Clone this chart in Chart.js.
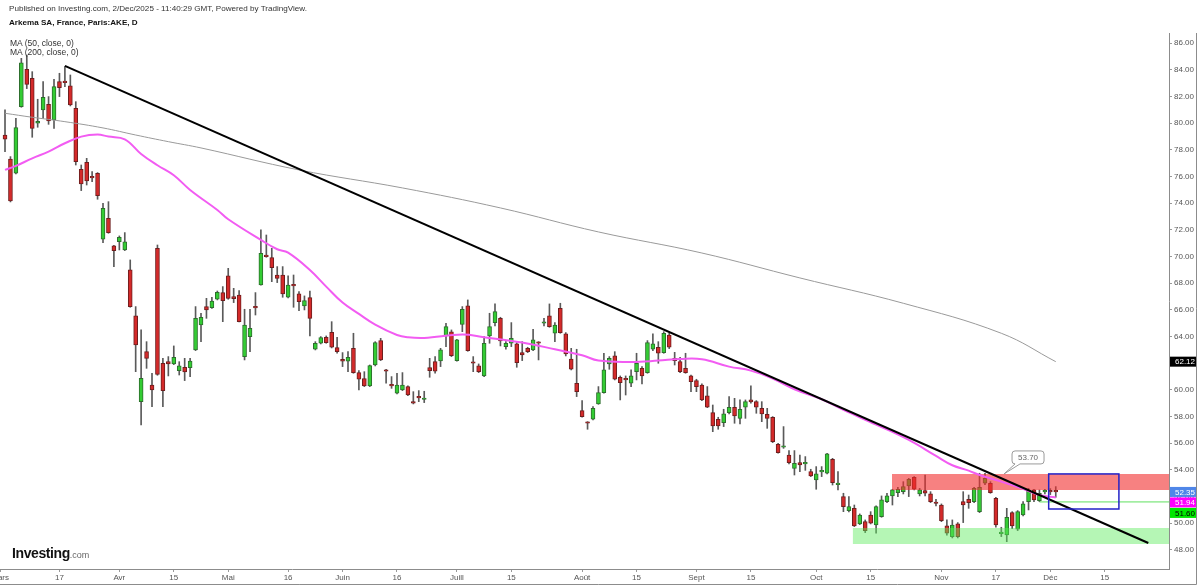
<!DOCTYPE html>
<html>
<head>
<meta charset="utf-8">
<script src="https://cdn.jsdelivr.net/npm/chart.js@4.4.1/dist/chart.umd.min.js"></script>
<style>
html, body { margin: 0; padding: 0; background: #fff; }
#wrap { position: relative; width: 1200px; height: 586px; overflow: hidden; font-family: "Liberation Sans", Arial, sans-serif; }
#chart { position: absolute; left: 0; top: 0; }
.txt { position: absolute; white-space: nowrap; color: #333; }
#hdr1 { left: 9px; top: 4px; font-size: 8.1px; }
#hdr2 { left: 9px; top: 18px; font-size: 8.1px; font-weight: bold; color: #111; }
#ma { left: 10px; top: 39px; font-size: 8.5px; line-height: 8.5px; }
#logo { left: 12px; top: 545px; font-size: 14px; font-weight: bold; color: #111; letter-spacing: -0.4px; }
#logo span { font-weight: normal; font-size: 9px; color: #666; letter-spacing: 0; }
</style>
</head>
<body>
<div id="wrap">
  <canvas id="chart" width="1200" height="586"></canvas>
  <div class="txt" id="hdr1">Published on Investing.com, 2/Dec/2025 - 11:40:29 GMT, Powered by TradingView.</div>
  <div class="txt" id="hdr2">Arkema SA, France, Paris:AKE, D</div>
  <div class="txt" id="ma">MA (50, close, 0)<br>MA (200, close, 0)</div>
  <div class="txt" id="logo">Investing<span>.com</span></div>
</div>
<script>
// daily candles, trading day 0 = 3 Mar 2025 ... 193 = 2 Dec 2025
var open = [79.12, 77.32, 76.25, 81.24, 84.05, 83.37, 80.0, 81.0, 81.42, 80.25,
    83.12, 83.15, 82.8, 81.12, 76.55, 77.07, 75.95, 76.25, 71.3, 72.87,
    70.8, 71.12, 70.5, 69.0, 65.55, 59.12, 62.87, 60.37, 70.62, 62.0,
    62.12, 61.95, 61.45, 61.7, 61.67, 63.0, 64.87, 66.25, 66.17, 66.8,
    67.3, 68.55, 67.0, 67.12, 62.5, 64.0, 66.25, 67.87, 70.1, 69.92,
    68.62, 68.62, 66.95, 67.85, 67.2, 66.3, 66.92, 63.05, 63.5, 63.95,
    64.32, 63.17, 62.3, 62.15, 63.12, 61.3, 60.85, 60.3, 61.87, 63.7,
    61.5, 60.35, 59.75, 60.0, 60.25, 59.12, 59.45, 59.28, 61.67, 62.12,
    62.17, 64.05, 64.35, 62.2, 64.92, 66.3, 62.1, 61.8, 61.05, 64.05,
    65.05, 65.37, 63.25, 63.5, 63.45, 62.8, 63.12, 63.0, 63.55, 65.0,
    65.55, 64.25, 66.12, 64.2, 62.32, 60.5, 58.45, 57.55, 57.8, 58.95,
    59.8, 61.95, 62.55, 60.95, 60.8, 60.5, 61.37, 61.62, 61.3, 63.05,
    63.2, 62.8, 64.12, 62.37, 62.12, 61.62, 61.05, 60.7, 60.37, 59.55,
    58.3, 57.8, 57.55, 58.3, 58.7, 57.87, 58.7, 59.25, 59.12, 58.62,
    58.17, 57.95, 55.92, 55.7, 55.12, 54.12, 54.55, 54.45, 53.87, 53.25,
    53.85, 53.75, 54.8, 52.9, 52.0, 50.95, 51.12, 49.95, 50.12, 50.62,
    49.87, 50.5, 51.62, 52.05, 52.3, 52.37, 52.8, 53.45, 52.2, 52.45,
    52.2, 51.52, 51.37, 49.8, 48.99, 49.95, 51.62, 51.8, 51.62, 50.87,
    53.0, 53.0, 51.87, 49.22, 49.12, 50.8, 49.55, 50.62, 51.62, 52.5,
    51.7, 52.35, 52.4, 52.45];
var high = [81.0, 77.5, 80.37, 84.87, 85.12, 83.87, 81.8, 83.12, 82.0, 83.3,
    83.75, 84.25, 83.62, 81.62, 76.87, 77.37, 76.37, 76.3, 74.0, 74.12,
    70.85, 71.55, 71.8, 69.75, 66.25, 64.5, 63.62, 61.25, 70.87, 62.37,
    62.5, 63.3, 62.12, 62.37, 62.37, 66.25, 65.75, 66.87, 66.95, 67.42,
    67.75, 69.12, 67.62, 67.45, 66.05, 66.05, 67.3, 72.0, 71.62, 70.62,
    69.25, 69.25, 68.55, 68.62, 67.37, 67.05, 67.42, 63.62, 64.0, 64.05,
    65.12, 63.95, 62.8, 62.87, 64.25, 61.45, 61.37, 61.87, 63.62, 63.87,
    61.55, 61.0, 61.25, 61.3, 60.3, 59.87, 59.95, 59.9, 62.37, 62.5,
    63.12, 65.0, 64.5, 63.8, 66.25, 66.75, 62.5, 61.95, 64.0, 65.75,
    66.45, 65.45, 63.62, 65.05, 63.55, 63.62, 63.2, 64.55, 63.62, 65.37,
    66.45, 65.05, 66.5, 64.3, 63.12, 63.05, 59.2, 57.62, 58.75, 60.25,
    62.75, 62.5, 62.87, 61.05, 61.05, 61.5, 62.75, 61.75, 63.7, 64.2,
    63.62, 64.37, 64.25, 62.82, 62.45, 62.75, 61.12, 60.8, 60.45, 60.25,
    58.87, 57.95, 58.55, 59.5, 59.37, 59.25, 59.25, 60.3, 59.2, 59.12,
    58.62, 58.0, 56.0, 57.25, 55.45, 55.45, 55.12, 55.0, 54.05, 54.25,
    54.25, 55.25, 54.87, 53.87, 52.25, 52.0, 51.37, 50.7, 50.25, 50.87,
    51.3, 52.05, 52.25, 52.55, 52.7, 53.12, 53.37, 53.5, 52.62, 53.62,
    52.37, 51.8, 51.45, 50.25, 50.25, 50.05, 52.37, 52.12, 52.7, 53.75,
    53.75, 53.12, 51.95, 49.7, 51.12, 50.87, 50.95, 51.62, 52.62, 52.55,
    52.5, 52.55, 52.6, 52.75];
var low = [77.87, 74.1, 76.2, 81.2, 82.6, 78.95, 79.7, 80.37, 79.92, 79.62,
    82.0, 82.75, 81.3, 76.87, 74.95, 75.37, 75.62, 74.3, 71.05, 71.75,
    69.25, 70.5, 70.45, 66.2, 61.37, 57.37, 61.62, 58.75, 61.1, 58.75,
    61.05, 61.9, 61.12, 60.7, 61.0, 62.95, 63.62, 65.37, 66.12, 66.75,
    65.12, 66.8, 66.55, 65.1, 62.25, 62.87, 65.62, 67.85, 69.95, 68.12,
    68.05, 66.95, 66.9, 66.2, 65.95, 66.0, 64.05, 63.0, 63.45, 63.5,
    63.15, 62.75, 61.75, 61.37, 61.25, 60.0, 60.25, 60.25, 61.8, 62.2,
    60.5, 60.12, 59.7, 59.95, 59.57, 58.95, 59.12, 59.05, 60.95, 61.25,
    61.75, 63.25, 62.5, 62.15, 64.37, 62.9, 61.37, 61.3, 61.0, 63.5,
    64.8, 63.3, 63.05, 63.25, 61.7, 62.2, 62.8, 62.95, 62.25, 64.8,
    64.7, 63.62, 64.25, 62.55, 61.5, 59.5, 57.95, 57.05, 57.75, 58.92,
    59.75, 61.55, 60.75, 59.25, 59.62, 60.25, 60.75, 60.45, 61.25, 62.95,
    62.0, 62.75, 63.1, 61.87, 61.3, 61.25, 59.87, 59.87, 59.2, 58.67,
    56.87, 57.05, 57.25, 58.2, 57.5, 57.45, 57.87, 59.0, 58.25, 57.62,
    57.12, 56.05, 55.25, 55.62, 54.45, 53.62, 53.87, 53.97, 53.5, 52.55,
    53.5, 53.7, 52.87, 52.5, 50.87, 50.85, 49.75, 49.9, 49.3, 49.95,
    49.25, 50.45, 51.55, 51.37, 52.0, 52.2, 52.0, 52.5, 52.05, 52.05,
    51.55, 51.3, 50.12, 49.1, 48.9, 48.9, 50.05, 51.12, 51.55, 50.8,
    52.9, 52.25, 49.7, 49.0, 48.62, 49.6, 49.45, 50.55, 51.0, 51.62,
    51.62, 52.2, 52.15, 51.95];
var close = [78.8, 74.17, 79.67, 84.54, 82.92, 79.62, 80.15, 81.95, 80.17, 82.75,
    82.67, 83.05, 81.37, 77.12, 75.45, 75.67, 75.9, 74.57, 73.62, 71.8,
    70.45, 71.45, 71.1, 66.25, 63.37, 60.87, 62.37, 60.0, 61.17, 59.95,
    61.95, 62.45, 61.8, 61.35, 62.17, 65.37, 65.45, 66.0, 66.67, 67.32,
    66.7, 66.87, 66.85, 65.12, 64.87, 64.62, 66.15, 70.25, 70.0, 69.17,
    68.37, 67.2, 67.87, 67.8, 66.62, 66.7, 65.37, 63.5, 63.92, 63.55,
    63.2, 62.87, 62.15, 62.45, 61.3, 60.8, 60.3, 61.82, 63.55, 62.25,
    61.4, 60.3, 60.37, 60.37, 59.62, 59.0, 59.4, 59.32, 61.45, 61.4,
    63.0, 64.75, 62.57, 63.75, 66.05, 62.95, 62.0, 61.37, 63.5, 64.75,
    65.87, 63.67, 63.5, 63.87, 62.05, 62.62, 62.87, 63.75, 63.5, 65.05,
    64.75, 64.87, 64.3, 62.7, 61.55, 59.87, 58.0, 57.5, 58.62, 59.8,
    61.5, 62.37, 60.8, 60.55, 60.75, 61.05, 62.0, 61.05, 63.55, 63.45,
    62.75, 64.25, 63.2, 62.2, 61.37, 61.3, 60.62, 60.25, 59.25, 58.7,
    57.3, 57.3, 58.2, 58.7, 58.05, 58.55, 59.12, 59.1, 58.7, 58.2,
    57.87, 56.12, 55.3, 55.78, 54.55, 54.5, 54.37, 54.52, 53.55, 53.7,
    53.9, 55.2, 53.05, 52.97, 51.25, 51.25, 49.8, 50.62, 49.45, 50.0,
    51.25, 51.75, 52.05, 52.5, 52.55, 52.75, 53.3, 52.55, 52.5, 52.25,
    51.62, 51.48, 50.2, 49.25, 49.87, 49.0, 51.37, 51.55, 52.62, 52.7,
    53.37, 52.3, 49.87, 49.28, 50.45, 49.8, 50.87, 51.45, 52.45, 51.75,
    52.25, 52.4, 52.35, 52.35];

// moving averages (trading-day index, value)
var ma50Idx = [0, 2, 5, 8, 11, 14, 17, 19, 22, 25, 28, 31, 34, 39, 41, 47, 50, 52, 56, 59,
    62, 65, 68, 72, 74, 77, 84, 88, 95, 101, 106, 109, 115, 120, 124, 128, 133, 137, 141, 145,
    150, 154, 160, 166, 171, 174, 177, 179, 183, 187, 190, 193];
var ma50Val = [76.5, 76.8, 77.37, 77.87, 78.5, 79.0, 79.15, 79.0, 78.8, 77.7, 76.85, 76.1, 75.0, 73.5, 72.8, 71.25, 70.55, 70.3, 69.0, 67.75,
    66.55, 65.7, 64.9, 64.12, 63.95, 63.9, 64.15, 63.95, 63.55, 63.05, 62.6, 62.2, 62.1, 62.2, 62.32, 62.3, 61.75, 61.45, 60.85, 60.05,
    59.3, 58.5, 57.4, 56.25, 55.05, 54.35, 53.95, 53.62, 53.12, 52.58, 52.12, 51.94];
var ma200Idx = [0, 5, 11, 18, 24, 30, 36, 54, 73, 91, 109, 128, 146, 165, 183, 193];
var ma200Val = [80.75, 80.45, 80.12, 79.65, 79.12, 78.62, 78.15, 76.5, 75.15, 73.65, 71.85, 70.27, 68.4, 66.5, 64.25, 62.12];

// drawings; zones run past the right edge of the plot and are clipped there
var trendIdx = [11, 210];
var trendVal = [84.3, 48.52];
var zoneIdx = [162.9, 220];
var redZoneHi = 53.7, redZoneLo = 52.5;
var greenZoneIdx = [155.7, 220];
var greenZoneHi = 49.65, greenZoneLo = 48.45;
var levelIdx = [190, 220];
var levelValue = 51.60;
var blueBox = { from: 191.7, to: 204.6, lo: 51.07, hi: 53.7 };
var callout = { idx: 183.5, value: 53.70 };

// axes
var xTickIdx = [-0.9, 10, 21, 31, 41, 52, 62, 72, 83, 93, 106, 116, 127, 137, 149, 159, 172, 182, 192, 202];
var xTickText = ['Mars', '17', 'Avr', '15', 'Mai', '16', 'Juin', '16', 'Juill', '15', 'Août', '15', 'Sept', '15', 'Oct', '15', 'Nov', '17', 'Déc', '15'];
var yTicks = [48, 50, 52, 54, 56, 58, 60, 62, 64, 66, 68, 70, 72, 74, 76, 78, 80, 82, 84, 86];
var priceTags = [
    { value: 62.12, bg: '#000000', fg: '#ffffff' },
    { value: 52.35, bg: '#4f86e8', fg: '#ffffff' },
    { value: 51.94, bg: '#ff00ff', fg: '#ffffff' },
    { value: 51.60, bg: '#00e600', fg: '#000000' }
];

var FONT = '"Liberation Sans", Arial, sans-serif';
var UP = '#33cc33', DOWN = '#d42a2a';

function pts(xs, ys) {
    return xs.map(function (x, i) { return { x: x, y: ys[i] }; });
}
function flat(xs, v) {
    return xs.map(function (x) { return { x: x, y: v }; });
}
function edge(label, data, order, fill, color) {
    return {
        type: 'line', label: label, data: data, order: order,
        borderWidth: 0, pointRadius: 0, fill: fill, backgroundColor: color || 'transparent'
    };
}

var drawings = {
    id: 'drawings',
    afterDatasetsDraw: function (chart) {
        var ctx = chart.ctx, xs = chart.scales.x, ys = chart.scales.y;
        ctx.save();
        // blue box
        var bx1 = xs.getPixelForValue(blueBox.from), bx2 = xs.getPixelForValue(blueBox.to);
        var by1 = ys.getPixelForValue(blueBox.hi), by2 = ys.getPixelForValue(blueBox.lo);
        ctx.strokeStyle = '#2323c8';
        ctx.lineWidth = 1.5;
        ctx.strokeRect(bx1, by1, bx2 - bx1, by2 - by1);
        // callout
        var px = xs.getPixelForValue(callout.idx), py = ys.getPixelForValue(callout.value);
        var w = 32, h = 13, cx = px + 8, cy = py - 23;
        ctx.fillStyle = '#ffffff';
        ctx.strokeStyle = '#9a9a9a';
        ctx.lineWidth = 1;
        ctx.beginPath();
        ctx.moveTo(cx + 3, cy);
        ctx.lineTo(cx + w - 3, cy);
        ctx.quadraticCurveTo(cx + w, cy, cx + w, cy + 3);
        ctx.lineTo(cx + w, cy + h - 3);
        ctx.quadraticCurveTo(cx + w, cy + h, cx + w - 3, cy + h);
        ctx.lineTo(cx + 8, cy + h);
        ctx.lineTo(px, py);
        ctx.lineTo(cx + 3, cy + h);
        ctx.quadraticCurveTo(cx, cy + h, cx, cy + h - 3);
        ctx.lineTo(cx, cy + 3);
        ctx.quadraticCurveTo(cx, cy, cx + 3, cy);
        ctx.closePath();
        ctx.fill();
        ctx.stroke();
        ctx.fillStyle = '#666';
        ctx.font = '8px ' + FONT;
        ctx.textAlign = 'center';
        ctx.textBaseline = 'middle';
        ctx.fillText(callout.value.toFixed(2), cx + w / 2, cy + h / 2 + 0.5);
        ctx.restore();
    },
    afterDraw: function (chart) {
        var ctx = chart.ctx, ys = chart.scales.y, a = chart.chartArea;
        ctx.save();
        // frame
        ctx.strokeStyle = '#8c8c8c';
        ctx.lineWidth = 1;
        ctx.beginPath();
        ctx.moveTo(1196.5, a.top);
        ctx.lineTo(1196.5, 584.5);
        ctx.lineTo(0, 584.5);
        ctx.stroke();
        // price tags on the axis
        var tags = priceTags.map(function (t) { return { t: t, y: ys.getPixelForValue(t.value) }; });
        tags.sort(function (p, q) { return p.y - q.y; });
        for (var i = 1; i < tags.length; i++) {
            if (tags[i].y - tags[i - 1].y < 10.5) tags[i].y = tags[i - 1].y + 10.5;
        }
        ctx.font = '8px ' + FONT;
        ctx.textAlign = 'left';
        ctx.textBaseline = 'middle';
        tags.forEach(function (p) {
            ctx.fillStyle = p.t.bg;
            ctx.fillRect(a.right + 1, p.y - 5, 26, 10);
            ctx.fillStyle = p.t.fg;
            ctx.fillText(p.t.value.toFixed(2), a.right + 6, p.y + 0.5);
        });
        ctx.restore();
    }
};

new Chart(document.getElementById('chart'), {
    data: {
        datasets: [
            {
                type: 'bar',
                label: 'wicks',
                data: pts(low.map(function (v, i) { return i; }), low.map(function (v, i) { return [v, high[i]]; })),
                backgroundColor: '#5a5a5a',
                barThickness: 1,
                grouped: false,
                order: 9
            },
            {
                type: 'bar',
                label: 'AKE',
                data: pts(open.map(function (v, i) { return i; }), open.map(function (v, i) { return [v, close[i]]; })),
                backgroundColor: open.map(function (v, i) { return close[i] >= v ? UP : DOWN; }),
                borderColor: open.map(function (v, i) { return close[i] >= v ? '#2c6e2c' : '#6e1e1e'; }),
                borderWidth: 1,
                borderSkipped: false,
                barThickness: 4,
                minBarLength: 1.5,
                grouped: false,
                order: 8
            },
            edge('green zone top', flat(greenZoneIdx, greenZoneHi), 7, false),
            edge('green zone', flat(greenZoneIdx, greenZoneLo), 6, '-1', 'rgba(90,235,90,0.45)'),
            edge('red zone top', flat(zoneIdx, redZoneHi), 5, false),
            edge('red zone', flat(zoneIdx, redZoneLo), 4, '-1', 'rgba(242,45,45,0.6)'),
            {
                type: 'line',
                label: 'level',
                data: flat(levelIdx, levelValue),
                borderColor: '#5ee05e',
                borderWidth: 1,
                pointRadius: 0,
                order: 3
            },
            {
                type: 'line',
                label: 'MA (200, close, 0)',
                data: pts(ma200Idx, ma200Val),
                borderColor: '#9a9a9a',
                borderWidth: 1,
                pointRadius: 0,
                tension: 0.4,
                order: 2
            },
            {
                type: 'line',
                label: 'MA (50, close, 0)',
                data: pts(ma50Idx, ma50Val),
                borderColor: '#f25cf2',
                borderWidth: 2,
                pointRadius: 0,
                tension: 0.4,
                order: 1
            },
            {
                type: 'line',
                label: 'trend',
                data: pts(trendIdx, trendVal),
                borderColor: '#000000',
                borderWidth: 2,
                pointRadius: 0,
                order: 0
            }
        ]
    },
    options: {
        responsive: false,
        animation: false,
        layout: { padding: { top: 33, left: 0, right: 0, bottom: 0 } },
        plugins: {
            legend: { display: false },
            tooltip: { enabled: false },
            filler: { drawTime: 'beforeDatasetDraw' }
        },
        scales: {
            x: {
                type: 'linear',
                offset: false,
                min: -0.92,
                max: 213.8,
                afterBuildTicks: function (ax) {
                    ax.ticks = xTickIdx.map(function (v) { return { value: v }; });
                },
                afterFit: function (ax) {
                    ax.height = 17;
                    ax.paddingLeft = 0;
                    ax.paddingRight = 0;
                },
                ticks: {
                    autoSkip: false,
                    maxRotation: 0,
                    padding: 1,
                    color: '#555',
                    font: { family: FONT, size: 8 },
                    callback: function (v, i) { return xTickText[i]; }
                },
                grid: { offset: false, drawOnChartArea: false, drawTicks: true, tickLength: 3, color: '#999' },
                border: { color: '#8c8c8c' }
            },
            y: {
                position: 'right',
                min: 46.57,
                max: 86.77,
                afterBuildTicks: function (ax) {
                    ax.ticks = yTicks.map(function (v) { return { value: v }; });
                },
                afterFit: function (ax) {
                    ax.width = 31;
                    ax.paddingTop = 0;
                    ax.paddingBottom = 0;
                },
                ticks: {
                    padding: 2,
                    color: '#555',
                    font: { family: FONT, size: 8 },
                    callback: function (v) { return v.toFixed(2); }
                },
                grid: { drawOnChartArea: false, drawTicks: true, tickLength: 3, color: '#999' },
                border: { color: '#8c8c8c' }
            }
        }
    },
    plugins: [drawings]
});
</script>
</body>
</html>
